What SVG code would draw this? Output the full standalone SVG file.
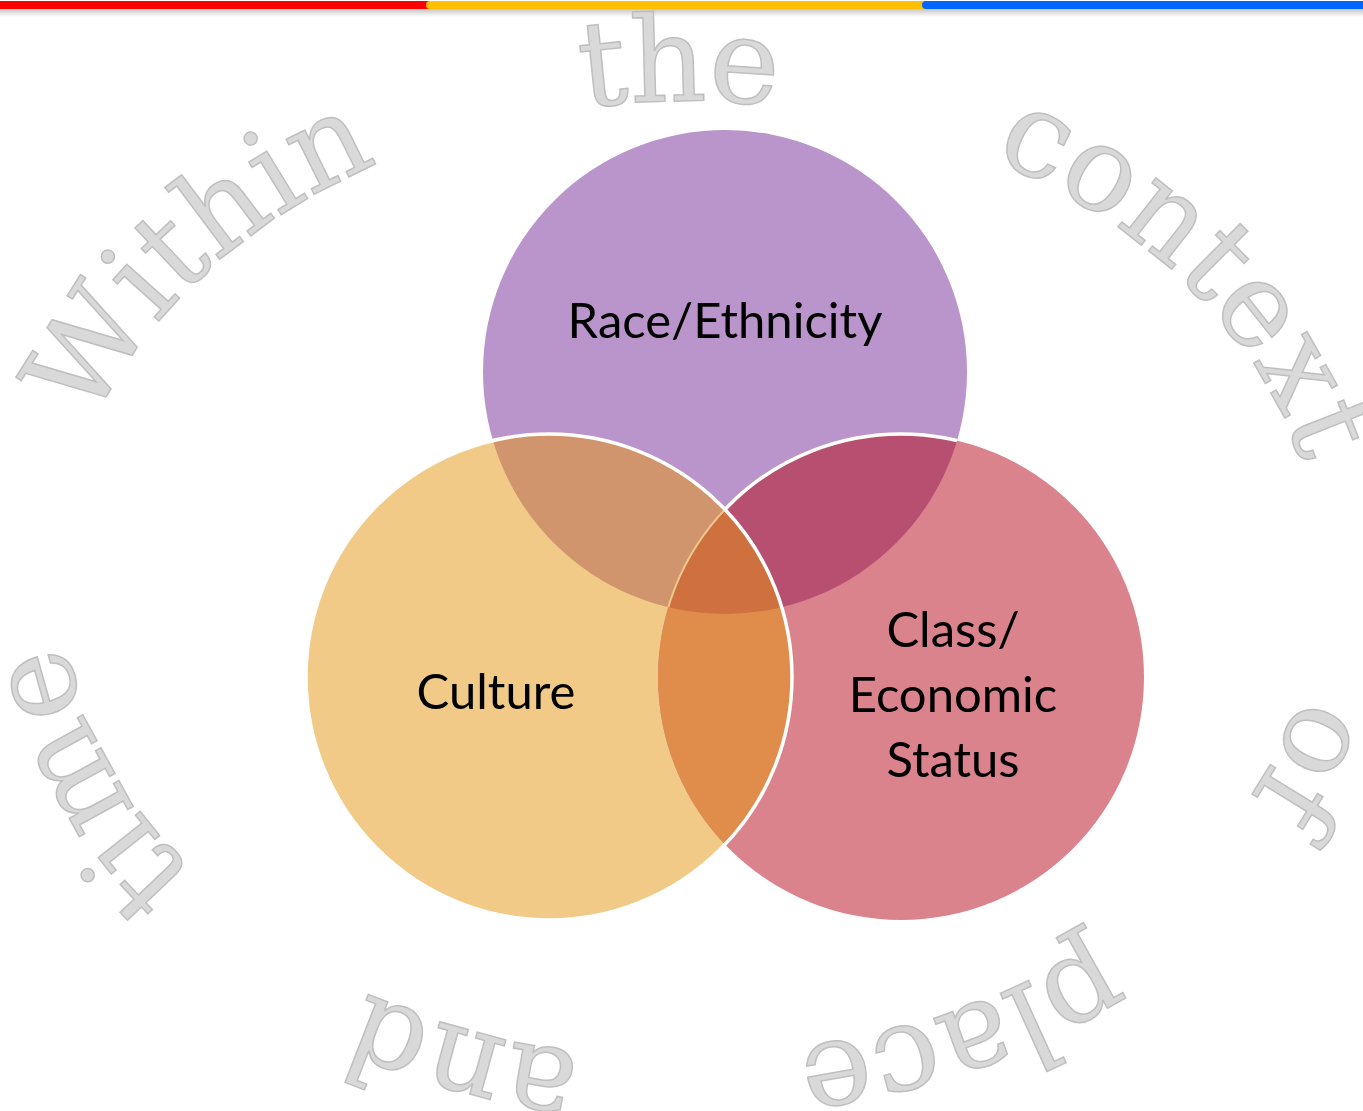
<svg xmlns="http://www.w3.org/2000/svg" xmlns:xlink="http://www.w3.org/1999/xlink" width="1363" height="1111" viewBox="0 0 1363 1111">
  <style>
    .arc { font-family: "DejaVu Serif", "Liberation Serif", serif; font-size: 119px; fill: #D9D9D9; stroke: #BFBFBF; stroke-width: 1.5; text-anchor: middle; }
    .lbl { font-family: Lato, "Liberation Sans", sans-serif; font-size: 49px; fill: #000000; text-anchor: middle; }
    .edge { fill: none; stroke: #FFFFFF; stroke-width: 3.5; }
  </style>
  <defs>
    <linearGradient id="shadow" x1="0" y1="0" x2="0" y2="1">
      <stop offset="0" stop-color="#808080" stop-opacity="0.45"/>
      <stop offset="1" stop-color="#808080" stop-opacity="0"/>
    </linearGradient>
    <clipPath id="cP"><circle cx="725" cy="372" r="242"/></clipPath>
    <clipPath id="cY"><circle cx="549" cy="677" r="243"/></clipPath>
    <mask id="mPnotY" maskUnits="userSpaceOnUse" x="0" y="0" width="1363" height="1111">
      <rect x="0" y="0" width="1363" height="1111" fill="#000000"/>
      <circle cx="725" cy="372" r="242" fill="#FFFFFF"/>
      <circle cx="549" cy="677" r="243" fill="#000000"/>
    </mask>
    <path id="p-within" d="M66.92 507.49 A630 477 0 0 1 500.55 123.08"/>
    <path id="p-the" d="M347.80 177.50 A630 477 0 0 1 1015.41 169.56"/>
    <path id="p-context" d="M896.15 127.26 A630 477 0 0 1 1315.44 520.69"/>
    <path id="p-of" d="M1308.21 486.17 A630 477 0 0 1 1070.02 958.45"/>
    <path id="p-place" d="M1216.56 839.88 A630 477 0 0 1 609.95 1051.13"/>
    <path id="p-and" d="M818.84 1044.92 A630 477 0 0 1 192.00 870.16"/>
    <path id="p-time" d="M333.16 971.11 A630 477 0 0 1 66.92 507.49"/>
  </defs>

  <rect width="1363" height="1111" fill="#FFFFFF"/>

  <g id="top-bar">
    <rect x="0" y="9" width="1363" height="8" fill="url(#shadow)"/>
    <rect x="0" y="1" width="430" height="8" fill="#FF0000"/>
    <line x1="430" y1="5" x2="926" y2="5" stroke="#FFC000" stroke-width="8" stroke-linecap="round"/>
    <line x1="926" y1="5" x2="1370" y2="5" stroke="#0066FF" stroke-width="8" stroke-linecap="round"/>
  </g>

  <g id="context-ring">
    <text class="arc"><textPath xlink:href="#p-within" href="#p-within" startOffset="284.3">Within</textPath></text>
    <text class="arc"><textPath xlink:href="#p-the" href="#p-the" startOffset="343.7">the</textPath></text>
    <text class="arc"><textPath xlink:href="#p-context" href="#p-context" startOffset="325.2">context</textPath></text>
    <text class="arc"><textPath xlink:href="#p-of" href="#p-of" startOffset="269.5">of</textPath></text>
    <text class="arc"><textPath xlink:href="#p-place" href="#p-place" startOffset="317.8">place</textPath></text>
    <text class="arc"><textPath xlink:href="#p-and" href="#p-and" startOffset="349.6"><tspan dy="-5">and</tspan></textPath></text>
    <text class="arc"><textPath xlink:href="#p-time" href="#p-time" startOffset="304.0">time</textPath></text>
  </g>

  <g id="circle-race">
    <circle cx="725" cy="372" r="242" fill="#BA95CB"/>
  </g>
  <g id="circle-culture">
    <circle cx="549" cy="677" r="243" fill="#F2CA88"/>
  </g>
  <g id="circle-class">
    <circle cx="901" cy="677" r="243" fill="#DA838C"/>
  </g>

  <g id="overlaps">
    <circle cx="549" cy="677" r="243" fill="#D0956D" clip-path="url(#cP)"/>
    <circle cx="901" cy="677" r="243" fill="#B74F71" clip-path="url(#cP)"/>
    <circle cx="901" cy="677" r="243" fill="#E08C4B" clip-path="url(#cY)"/>
    <g clip-path="url(#cP)">
      <circle cx="901" cy="677" r="243" fill="#CF703F" clip-path="url(#cY)"/>
    </g>
  </g>

  <g id="outlines">
    <g clip-path="url(#cP)">
      <g clip-path="url(#cY)">
        <circle cx="901" cy="677" r="243" fill="none" stroke="#EFC68C" stroke-width="2"/>
      </g>
    </g>
    <circle cx="901" cy="677" r="243" class="edge" mask="url(#mPnotY)"/>
    <circle cx="549" cy="677" r="243" class="edge"/>
  </g>

  <g id="labels">
    <text class="lbl" x="725" y="338">Race/Ethnicity</text>
    <text class="lbl" x="496" y="709">Culture</text>
    <text class="lbl" x="953" y="647">Class/</text>
    <text class="lbl" x="953" y="712">Economic</text>
    <text class="lbl" x="953" y="777">Status</text>
  </g>

  <g id="connectors"/>
</svg>
